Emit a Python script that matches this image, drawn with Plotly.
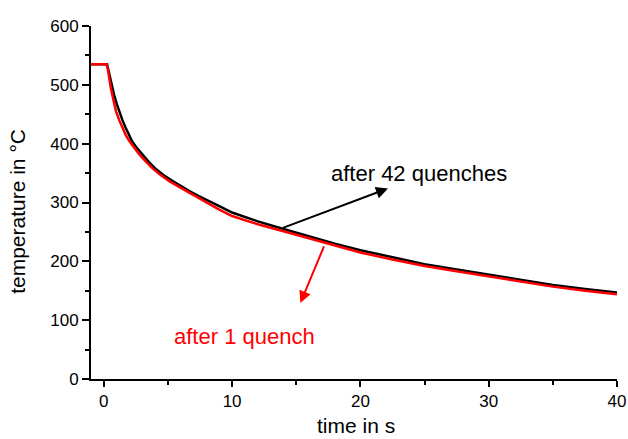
import plotly.graph_objects as go

# time in s and temperature in °C
t_42 = [-1, 0.25, 0.44, 0.6, 0.8, 1.0, 1.2, 1.45, 1.7, 2.2, 2.6, 3.0, 3.5, 4.0, 4.7, 5.4, 6.0, 6.7, 7.4, 8.2, 9.0, 10,
        12, 14, 16, 18, 20, 22.5, 25, 27.5, 30, 32.5, 35, 37.5, 40]
T_42 = [535, 535, 517, 500, 483, 468, 454, 440, 427, 404, 392, 381, 369, 358, 346, 336, 328, 319, 311, 303, 294, 283,
        268, 255, 242, 230, 219, 207, 195, 186, 177, 168, 160, 153, 147]

t_1 = [-1, 0.2, 0.3, 0.42, 0.55, 0.75, 0.95, 1.2, 1.45, 1.7, 2.0, 2.4, 2.8, 3.3, 3.8, 4.4, 5.1, 5.9, 6.7, 7.4, 8.2, 9.0, 10,
       12, 14, 16, 18, 20, 22.5, 25, 27.5, 30, 32.5, 35, 37.5, 40]
T_1 = [535, 535, 528, 510, 494, 474, 455, 440, 426, 415, 404, 392, 381, 369, 358, 347, 336, 326, 316, 307, 298, 288, 277,
       263, 251, 239, 227, 215, 203, 192, 183, 174, 165, 157, 150, 144]

label_42 = "after 42 quenches"
label_1 = "after 1 quench"
x_title = "time in s"
y_title = "temperature in °C"

FONT = "Liberation Sans, Arial, sans-serif"

fig = go.Figure()
fig.add_trace(go.Scatter(x=t_42, y=T_42, mode="lines",
                         line=dict(color="black", width=2.5), showlegend=False))
fig.add_trace(go.Scatter(x=t_1, y=T_1, mode="lines",
                         line=dict(color="#ff0000", width=2.5), showlegend=False))

# arrows
fig.add_annotation(x=22.15, y=324, ax=13.84, ay=256, xref="x", yref="y",
                   axref="x", ayref="y", text="", showarrow=True,
                   arrowhead=2, arrowsize=1.2, arrowwidth=2, arrowcolor="black")
fig.add_annotation(x=15.32, y=129, ax=17.21, ay=228, xref="x", yref="y",
                   axref="x", ayref="y", text="", showarrow=True,
                   arrowhead=2, arrowsize=1.2, arrowwidth=2, arrowcolor="#ff0000")
fig.add_annotation(x=24.6, y=350, xref="x", yref="y", text=label_42,
                   showarrow=False, font=dict(family=FONT, size=22, color="black"))
fig.add_annotation(x=10.97, y=73, xref="x", yref="y", text=label_1,
                   showarrow=False, font=dict(family=FONT, size=22, color="#ff0000"))

# axis titles
fig.add_annotation(x=0.504, y=-0.133, xref="paper", yref="paper", text=x_title,
                   showarrow=False, xanchor="center", yanchor="middle",
                   font=dict(family=FONT, size=21, color="black"))
fig.add_annotation(x=-0.139, y=0.476, xref="paper", yref="paper", text=y_title,
                   showarrow=False, xanchor="center", yanchor="middle", textangle=-90,
                   font=dict(family=FONT, size=21, color="black"))

fig.update_layout(
    width=628, height=439,
    margin=dict(l=91, r=11, t=26, b=60, autoexpand=False),
    paper_bgcolor="white", plot_bgcolor="white",
    font=dict(family=FONT, color="black"),
)
fig.update_xaxes(
    range=[-1, 40], tickvals=[0, 10, 20, 30, 40], showgrid=False, zeroline=False,
    showline=True, linecolor="black", linewidth=2, automargin=False,
    ticks="outside", ticklen=6, tickwidth=2, tickcolor="black",
    minor=dict(tickvals=[5, 15, 25, 35], ticks="outside", ticklen=4, tickwidth=2, tickcolor="black"),
    tickfont=dict(size=17),
)
fig.update_yaxes(
    range=[0, 600], tickvals=[0, 100, 200, 300, 400, 500, 600], showgrid=False, zeroline=False,
    showline=True, linecolor="black", linewidth=2, automargin=False,
    ticks="outside", ticklen=7, tickwidth=2, tickcolor="black",
    minor=dict(tickvals=[50, 150, 250, 350, 450, 550], ticks="outside", ticklen=4, tickwidth=2, tickcolor="black"),
    tickfont=dict(size=17),
)

fig.write_html("out.html")
